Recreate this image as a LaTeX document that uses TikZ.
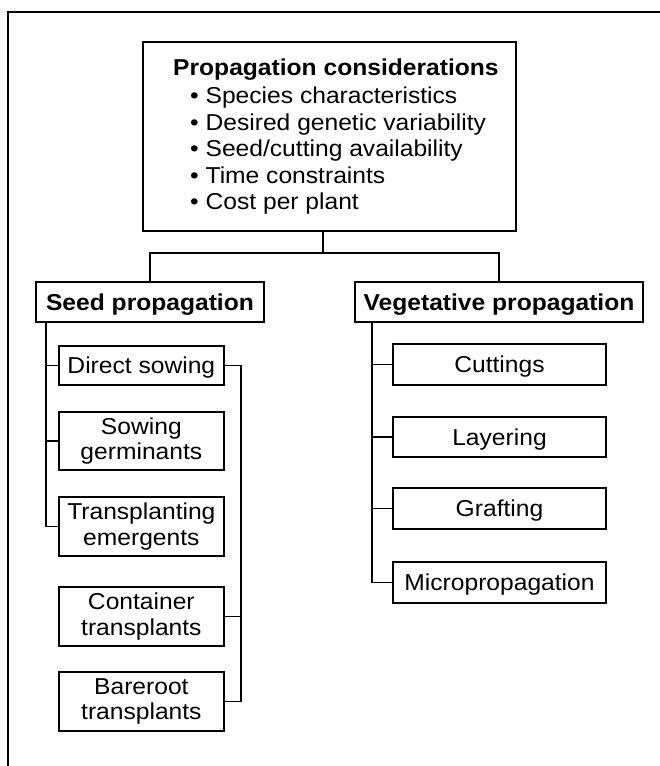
\documentclass[tikz,border=0pt]{standalone}
\usepackage{fontspec}
\setmainfont{Liberation Sans}[FakeStretch=1.07]
\begin{document}
\begin{tikzpicture}[x=1pt,y=-1pt,
  txt/.style={font=\fontsize{23}{25.5}\selectfont},
  box/.style={draw, line width=1.8pt, inner sep=0pt, align=center, txt},
  one/.style={text height=16.5pt, text depth=0pt},
  lbox/.style={box, minimum width=165pt},
  rbox/.style={box, one, minimum width=213pt, minimum height=40pt},
  line/.style={line width=1.8pt},
  bul/.style={txt, anchor=base west, inner sep=0pt}]
\useasboundingbox (0,0) rectangle (660,766);
\draw[line width=1.5pt] (8,766) |- (660,12);
% top box
\node[box, minimum width=373pt, minimum height=189pt] (top) at (329.5,136.5) {};
\node[bul] (title) at (173,75) {\textbf{Propagation considerations}};
\node[bul] (b1) at (190,103) {• Species characteristics};
\node[bul] (b2) at (190,130) {• Desired genetic variability};
\node[bul] (b3) at (190,156.5) {• Seed/cutting availability};
\node[bul] (b4) at (190,183) {• Time constraints};
\node[bul] (b5) at (190,209.5) {• Cost per plant};
% second level
\node[box, one, minimum width=228pt, minimum height=40pt] (seed) at (150,302) {\textbf{Seed propagation}};
\node[box, one, minimum width=288pt, minimum height=40pt] (veg) at (499,302) {\textbf{Vegetative propagation}};
\coordinate (j) at (322.7,253);
\draw[line] (top.south -| j) -- (j);
\draw[line] (seed.north) |- (j) -| (veg.north);
% seed children
\node[lbox, one, minimum height=39pt] (ds) at (141.35,365.5) {Direct sowing};
\node[lbox, minimum height=58pt] (sg) at (141.35,441) {Sowing\\germinants};
\node[lbox, minimum height=59pt] (te) at (141.35,526.5) {Transplanting\\emergents};
\node[lbox, minimum height=59pt] (ct) at (141.35,616.5) {Container\\transplants};
\node[lbox, minimum height=59pt] (br) at (141.35,701.5) {Bareroot\\transplants};
\coordinate (st) at (45.7,322);
\draw[line] (seed.south -| st) |- (te.west);
\draw[line] (ds.west) -- (ds.west -| st);
\draw[line] (sg.west) -- (sg.west -| st);
\coordinate (rt) at (241,364);
\draw[line] (ds.east) -| (rt |- br.east) -- (br.east);
\draw[line] (ct.east) -- (ct.east -| rt);
% vegetative children
\node[rbox, minimum height=41pt] (cu) at (499.5,364.5) {Cuttings};
\node[rbox] (la) at (499.5,437) {Layering};
\node[rbox, minimum height=41pt] (gr) at (499.5,508.5) {Grafting};
\node[rbox, minimum height=41pt] (mp) at (499.5,582.5) {Micropropagation};
\coordinate (vt) at (371.7,322);
\draw[line] (veg.south -| vt) |- (mp.west);
\draw[line] (cu.west) -- (cu.west -| vt);
\draw[line] (la.west) -- (la.west -| vt);
\draw[line] (gr.west) -- (gr.west -| vt);
\end{tikzpicture}
\end{document}
